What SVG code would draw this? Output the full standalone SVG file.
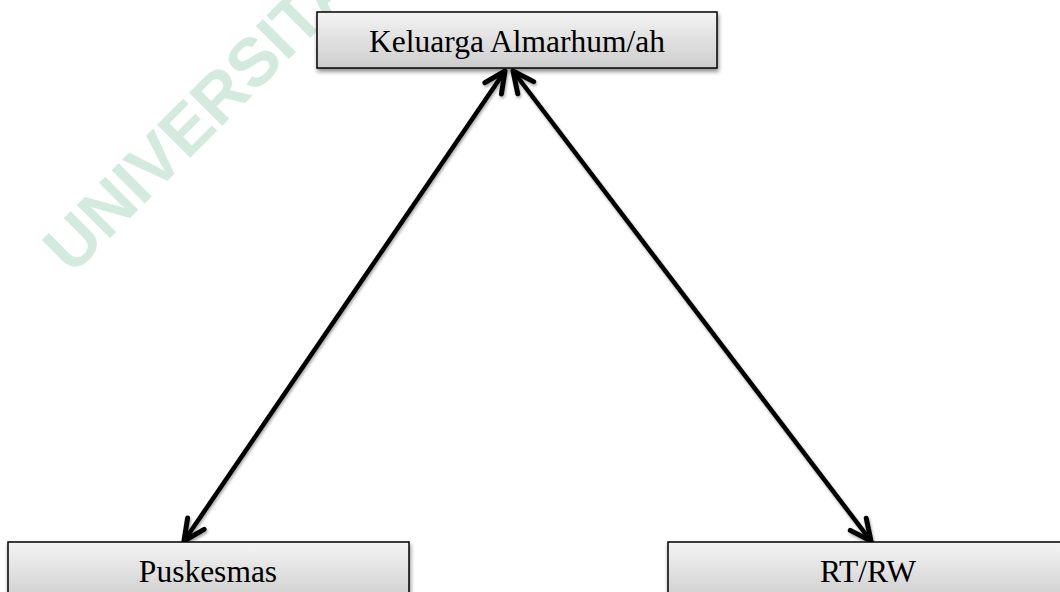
<svg xmlns="http://www.w3.org/2000/svg" width="1060" height="592" viewBox="0 0 1060 592">
  <defs>
    <linearGradient id="boxGrad" x1="0" y1="0" x2="0" y2="1">
      <stop offset="0" stop-color="#f4f4f4"/>
      <stop offset="1" stop-color="#cdcdcd"/>
    </linearGradient>
    <filter id="shadow" x="-10%" y="-20%" width="120%" height="150%">
      <feGaussianBlur in="SourceAlpha" stdDeviation="2"/>
      <feOffset dx="1" dy="3" result="b"/>
      <feComponentTransfer><feFuncA type="linear" slope="0.45"/></feComponentTransfer>
      <feMerge><feMergeNode/><feMergeNode in="SourceGraphic"/></feMerge>
    </filter>
    <filter id="lineShadow" x="-20%" y="-20%" width="140%" height="140%">
      <feGaussianBlur in="SourceAlpha" stdDeviation="1.5"/>
      <feOffset dx="1" dy="2" result="b"/>
      <feComponentTransfer><feFuncA type="linear" slope="0.35"/></feComponentTransfer>
      <feMerge><feMergeNode/><feMergeNode in="SourceGraphic"/></feMerge>
    </filter>
    <marker id="arrow" markerUnits="userSpaceOnUse" viewBox="-30 -15 36 30" refX="0" refY="0" markerWidth="36" markerHeight="30" orient="auto-start-reverse">
      <path d="M -21 -10 L 0 0 L -21 10" fill="none" stroke="#000" stroke-width="5" stroke-linecap="round" stroke-linejoin="round"/>
    </marker>
  </defs>
  <style>
    .box { fill: url(#boxGrad); stroke: #000; stroke-width: 1.5; filter: url(#shadow); }
    .label { font-family: "Liberation Serif", "Times New Roman", serif; font-size: 31.5px; fill: #000; text-anchor: middle; }
    .conn { stroke: #000; stroke-width: 4.5; fill: none; marker-start: url(#arrow); marker-end: url(#arrow); }
    .wm { font-family: "Liberation Sans", Arial, sans-serif; font-weight: bold; font-size: 68px; fill: #d3eade; }
  </style>
  <rect width="1060" height="592" fill="#ffffff"/>
  <text class="wm" transform="translate(72,276) rotate(-45)">UNIVERSITAS</text>
  <g id="connectors" filter="url(#lineShadow)">
    <line class="conn" x1="505" y1="71" x2="184" y2="541"/>
    <line class="conn" x1="513" y1="71" x2="871" y2="541"/>
  </g>
  <g id="node-keluarga">
    <rect class="box" x="317" y="12" width="400" height="56"/>
    <text class="label" x="517" y="52">Keluarga Almarhum/ah</text>
  </g>
  <g id="node-puskesmas">
    <rect class="box" x="8" y="542" width="401" height="60"/>
    <text class="label" x="208" y="582">Puskesmas</text>
  </g>
  <g id="node-rtrw">
    <rect class="box" x="668" y="542" width="401" height="60"/>
    <text class="label" x="868" y="582">RT/RW</text>
  </g>
</svg>
